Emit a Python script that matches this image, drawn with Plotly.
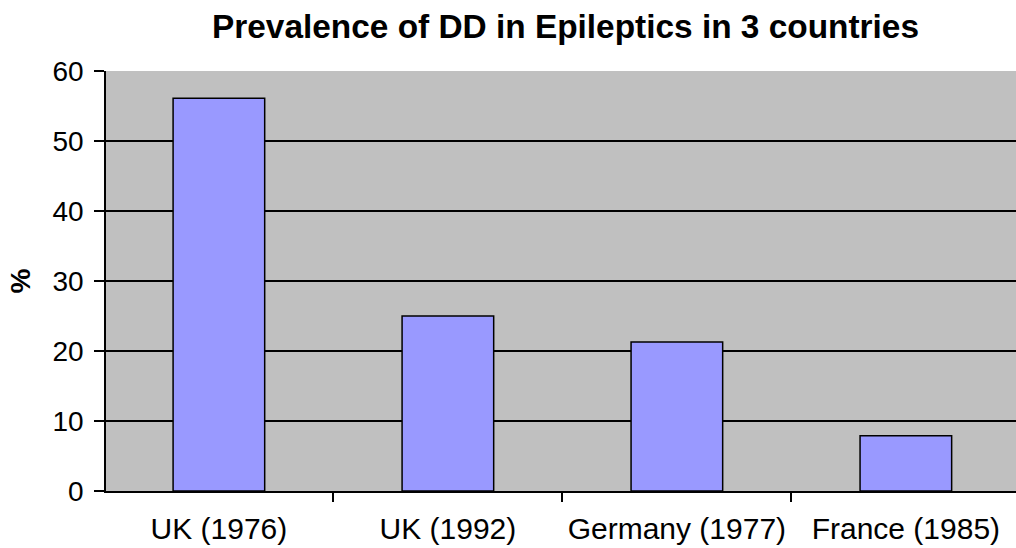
import plotly.graph_objects as go

categories = ["UK (1976)", "UK (1992)", "Germany (1977)", "France (1985)"]
prevalence = [56.1, 25.0, 21.3, 7.9]
y_ticks = [0, 10, 20, 30, 40, 50, 60]

fig = go.Figure()
fig.add_trace(go.Bar(
    x=categories,
    y=prevalence,
    width=0.4,
    marker=dict(color="#9999FF", line=dict(color="black", width=1.5)),
))

font_family = "Liberation Sans, Arial, sans-serif"

fig.update_layout(
    width=1016,
    height=548,
    margin=dict(l=106, r=0, t=71, b=57),
    paper_bgcolor="white",
    plot_bgcolor="#C0C0C0",
    showlegend=False,
    font=dict(family=font_family, color="black", size=28),
    title=dict(
        text="<b>Prevalence of DD in Epileptics in 3 countries</b>",
        font=dict(family=font_family, size=33.4, color="black"),
        x=565.5 / 1016,
        xanchor="center",
        xref="container",
        y=1 - 26 / 548,
        yanchor="middle",
        yref="container",
    ),
    xaxis=dict(
        type="category",
        range=[-0.493, 3.481],
        showgrid=False,
        showline=True,
        linecolor="black",
        linewidth=1.5,
        ticks="outside",
        tickson="boundaries",
        ticklen=9,
        tickwidth=1.5,
        tickcolor="black",
        tickfont=dict(size=30),
        ticklabelstandoff=10,
    ),
    yaxis=dict(
        range=[0, 60],
        tickvals=y_ticks,
        showgrid=True,
        gridcolor="black",
        gridwidth=1.5,
        zeroline=False,
        showline=True,
        linecolor="black",
        linewidth=1.5,
        ticks="outside",
        ticklen=10,
        tickwidth=1.5,
        tickcolor="black",
        tickfont=dict(size=28),
        ticklabelstandoff=5,
        title=dict(text="<b>%</b>", font=dict(size=28), standoff=14),
    ),
)

fig.write_html(
    "out.html",
    config={"displayModeBar": False},
    post_script="document.body.style.margin='0';document.body.style.overflow='hidden';",
)
